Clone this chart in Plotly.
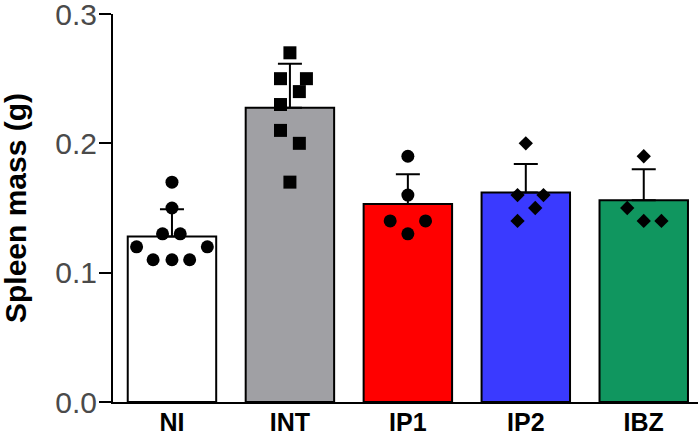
import plotly.graph_objects as go

categories = ["NI", "INT", "IP1", "IP2", "IBZ"]
bar_means = [0.128, 0.2275, 0.153, 0.162, 0.156]
bar_sd = [0.021, 0.034, 0.023, 0.022, 0.024]
bar_colors = ["#ffffff", "#a0a0a4", "#ff0000", "#3a3aff", "#10965f"]

ni_vals = [0.17, 0.15, 0.13, 0.13, 0.12, 0.12, 0.11, 0.11, 0.11]
ni_jit = [0.0, 0.0, -0.08, 0.07, -0.30, 0.30, -0.16, 0.0, 0.15]
int_vals = [0.27, 0.25, 0.25, 0.24, 0.23, 0.21, 0.20, 0.17]
int_jit = [0.0, -0.08, 0.14, 0.08, -0.08, -0.08, 0.08, 0.0]
ip1_vals = [0.19, 0.16, 0.14, 0.14, 0.13]
ip1_jit = [0.0, 0.0, -0.15, 0.15, 0.0]
ip2_vals = [0.20, 0.16, 0.16, 0.15, 0.14]
ip2_jit = [0.0, -0.07, 0.15, 0.08, -0.07]
ibz_vals = [0.19, 0.15, 0.14, 0.14]
ibz_jit = [0.0, -0.14, 0.0, 0.15]

groups = [
    (ni_vals, ni_jit, "circle", 13),
    (int_vals, int_jit, "square", 13),
    (ip1_vals, ip1_jit, "circle", 13),
    (ip2_vals, ip2_jit, "diamond", 11),
    (ibz_vals, ibz_jit, "diamond", 11),
]

idx = list(range(len(categories)))
FONT = "Liberation Sans, Arial, sans-serif"

fig = go.Figure()
fig.add_trace(go.Bar(
    x=idx, y=bar_means, width=0.75,
    marker=dict(color=bar_colors, line=dict(color="black", width=2)),
    error_y=dict(type="data", symmetric=False, array=bar_sd,
                 arrayminus=[0] * len(bar_sd), color="black",
                 thickness=2, width=12),
    showlegend=False,
))

for i, (vals, jit, sym, sz) in enumerate(groups):
    fig.add_trace(go.Scatter(
        x=[i + j for j in jit], y=vals, mode="markers",
        marker=dict(symbol=sym, size=sz, color="black",
                    line=dict(width=0)),
        showlegend=False,
    ))

L, R, T, B = 113, 2, 14, 38
W, H = 700, 440

fig.update_layout(
    width=W, height=H,
    margin=dict(l=L, r=R, t=T, b=B, autoexpand=False),
    plot_bgcolor="white", paper_bgcolor="white",
    font=dict(family=FONT),
)
fig.update_xaxes(
    range=[-0.5, 4.46], tickvals=idx, ticktext=categories,
    showgrid=False, zeroline=False, showline=True, linecolor="black",
    linewidth=2, ticks="", ticklabeloverflow="allow", ticklabelstandoff=-3,
    tickfont=dict(size=25, color="black", family=FONT, weight="bold"),
)
fig.update_yaxes(
    range=[0, 0.3], tickvals=[0, 0.1, 0.2, 0.3], tickformat=".1f",
    showgrid=False, zeroline=False, showline=True, linecolor="black",
    linewidth=2, ticks="outside", ticklen=12, tickwidth=2, tickcolor="black",
    ticklabeloverflow="allow", ticklabelstandoff=-4,
    tickfont=dict(size=30, color="#4a4a4a", family=FONT),
)
fig.add_annotation(
    text="<b>Spleen mass (g)</b>", textangle=-90,
    xref="paper", yref="paper",
    x=-(L - 15) / (W - L - R), y=0.5,
    xanchor="center", yanchor="middle", showarrow=False,
    font=dict(size=30, color="black", family=FONT),
)

fig.write_html("out.html", config={"displayModeBar": False},
               post_script="document.body.style.margin='0';")
